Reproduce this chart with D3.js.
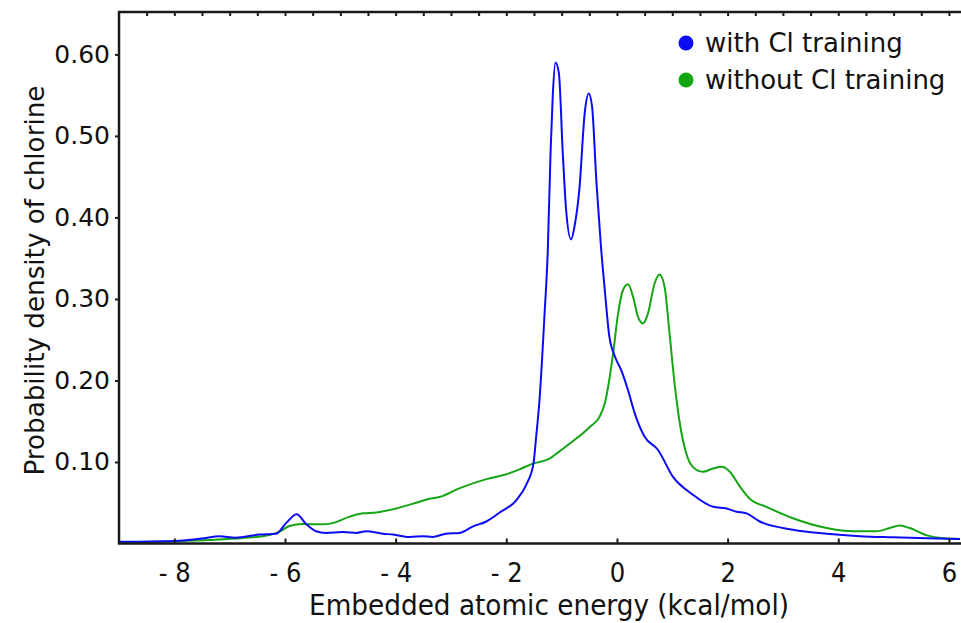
<!DOCTYPE html>
<html>
<head>
<meta charset="utf-8">
<script src="https://cdn.jsdelivr.net/npm/d3@7"></script>
<style>
  body { margin: 0; background: #fff; }
  svg { display: block; }
</style>
</head>
<body>
<div id="chart"></div>
<script>
// with Cl training (blue)
const withX = [-9.0, -8.0, -7.5, -7.18, -6.9, -6.46, -6.16, -5.98, -5.79, -5.62, -5.44, -5.26, -4.95, -4.71, -4.53, -4.23, -4.05, -3.75, -3.5, -3.33, -3.09, -2.84, -2.6, -2.36, -2.12, -1.82, -1.64, -1.51, -1.46, -1.4, -1.31, -1.25, -1.2, -1.16, -1.11, -1.05, -0.98, -0.92, -0.83, -0.77, -0.68, -0.58, -0.51, -0.45, -0.37, -0.29, -0.22, -0.14, -0.04, 0.08, 0.2, 0.32, 0.5, 0.74, 1.01, 1.37, 1.74, 1.98, 2.16, 2.34, 2.58, 3.18, 3.79, 4.39, 4.99, 5.6, 6.2];
const withY = [0.002, 0.003, 0.006, 0.009, 0.007, 0.011, 0.012, 0.025, 0.036, 0.024, 0.015, 0.013, 0.014, 0.013, 0.015, 0.012, 0.011, 0.008, 0.009, 0.008, 0.012, 0.013, 0.021, 0.027, 0.038, 0.053, 0.072, 0.098, 0.131, 0.176, 0.28, 0.36, 0.48, 0.55, 0.59, 0.577, 0.48, 0.41, 0.373, 0.388, 0.434, 0.53, 0.552, 0.536, 0.442, 0.365, 0.311, 0.255, 0.23, 0.212, 0.188, 0.16, 0.131, 0.115, 0.082, 0.06, 0.045, 0.043, 0.039, 0.037, 0.027, 0.017, 0.012, 0.009, 0.0076, 0.0064, 0.0055];

// without Cl training (green)
const withoutX = [-9.0, -8.0, -7.36, -6.76, -6.28, -6.1, -5.92, -5.68, -5.32, -5.14, -4.83, -4.59, -4.35, -3.99, -3.63, -3.39, -3.21, -2.84, -2.36, -2.0, -1.76, -1.52, -1.22, -1.04, -0.73, -0.49, -0.31, -0.22, -0.16, -0.07, 0.02, 0.11, 0.2, 0.29, 0.38, 0.47, 0.56, 0.68, 0.77, 0.86, 0.95, 1.04, 1.13, 1.25, 1.37, 1.55, 1.74, 1.89, 2.04, 2.22, 2.4, 2.7, 3.18, 3.79, 4.27, 4.69, 4.93, 5.11, 5.29, 5.6, 5.9, 6.2];
const withoutY = [0.001, 0.0027, 0.0043, 0.0067, 0.0104, 0.0145, 0.0215, 0.024, 0.0235, 0.025, 0.033, 0.037, 0.038, 0.043, 0.05, 0.055, 0.057, 0.068, 0.079, 0.085, 0.091, 0.098, 0.104, 0.113, 0.129, 0.143, 0.156, 0.172, 0.192, 0.233, 0.282, 0.311, 0.318, 0.303, 0.278, 0.27, 0.282, 0.319, 0.33, 0.315, 0.258, 0.197, 0.15, 0.111, 0.094, 0.088, 0.092, 0.094, 0.088, 0.07, 0.055, 0.045, 0.031, 0.019, 0.015, 0.015, 0.019, 0.022, 0.019, 0.01, 0.0064, 0.0055];

const xTicks = [-8, -6, -4, -2, 0, 2, 4, 6];
const xTopTicks = d3.range(-8.5, 6.01, 0.5);
const yTicks = [0.1, 0.2, 0.3, 0.4, 0.5, 0.6];
const seriesNames = ["with Cl training", "without Cl training"];
const seriesColors = ["#0b0bf5", "#14a514"];

const width = 961, height = 623;
const margin = {top: 12, right: 1, bottom: 79.5, left: 119};

const svg = d3.select("#chart").append("svg")
    .attr("width", width)
    .attr("height", height);

const x = d3.scaleLinear().domain([-9.0, 6.2]).range([margin.left, width - margin.right]);
const y = d3.scaleLinear().domain([0, 0.652]).range([height - margin.bottom, margin.top]);

const series = [
    withX.map((v, i) => ({x: v, y: withY[i]})),
    withoutX.map((v, i) => ({x: v, y: withoutY[i]}))
];

const line = d3.line()
    .x(d => x(d.x))
    .y(d => y(d.y))
    .curve(d3.curveMonotoneX);

// curves (green first so blue sits on top)
[1, 0].forEach(i => {
    svg.append("path")
        .datum(series[i])
        .attr("d", line)
        .attr("fill", "none")
        .attr("stroke", seriesColors[i])
        .attr("stroke-width", 2);
});

const axisColor = "#1a1a1a";
const fmtX = d => d < 0 ? "- " + Math.abs(d) : String(d);

// bottom axis
const gx = svg.append("g")
    .attr("transform", `translate(0,${y(0)})`)
    .call(d3.axisBottom(x).tickValues(xTicks).tickFormat(fmtX).tickSizeInner(-5).tickSizeOuter(0).tickPadding(19));
gx.select(".domain").remove();
gx.selectAll(".tick line").attr("stroke", axisColor).attr("stroke-width", 2);
gx.selectAll(".tick text")
    .attr("font-family", "DejaVu Sans Condensed, DejaVu Sans")
    .attr("font-stretch", "condensed")
    .attr("font-size", 27)
    .attr("fill", "#111");

// top ticks
const gt = svg.append("g")
    .attr("transform", `translate(0,${margin.top})`)
    .call(d3.axisTop(x).tickValues(xTopTicks).tickFormat("").tickSizeInner(-4).tickSizeOuter(0));
gt.select(".domain").remove();
gt.selectAll(".tick line").attr("stroke", axisColor).attr("stroke-width", 2);

// left axis
const gy = svg.append("g")
    .attr("transform", `translate(${margin.left},0)`)
    .call(d3.axisLeft(y).tickValues(yTicks).tickFormat(d3.format(".2f")).tickSizeInner(4).tickSizeOuter(0).tickPadding(5));
gy.select(".domain").remove();
gy.selectAll(".tick line").attr("stroke", axisColor).attr("stroke-width", 2);
gy.selectAll(".tick text")
    .attr("font-family", "DejaVu Sans")
    .attr("font-size", 25)
    .attr("fill", "#111");

// frame: left, top, bottom
svg.append("path")
    .attr("d", `M${width},${margin.top}H${margin.left}V${y(0)}H${width}`)
    .attr("fill", "none")
    .attr("stroke", axisColor)
    .attr("stroke-width", 2.5);

// axis titles
svg.append("text")
    .attr("x", 549)
    .attr("y", 615)
    .attr("text-anchor", "middle")
    .attr("font-family", "DejaVu Sans Condensed, DejaVu Sans")
    .attr("font-stretch", "condensed")
    .attr("font-size", 28)
    .attr("textLength", 480)
    .attr("lengthAdjust", "spacingAndGlyphs")
    .attr("fill", "#111")
    .text("Embedded atomic energy (kcal/mol)");

svg.append("text")
    .attr("transform", `translate(44,${y(0.325) + 2}) rotate(-90)`)
    .attr("text-anchor", "middle")
    .attr("font-family", "DejaVu Sans")
    .attr("font-size", 26)
    .attr("textLength", 390)
    .attr("lengthAdjust", "spacingAndGlyphs")
    .attr("fill", "#111")
    .text("Probability density of chlorine");

// legend
const legend = svg.append("g");
seriesNames.forEach((name, i) => {
    const ly = 43 + i * 37;
    legend.append("circle")
        .attr("cx", 686)
        .attr("cy", ly)
        .attr("r", 7.5)
        .attr("fill", seriesColors[i]);
    legend.append("text")
        .attr("x", 705)
        .attr("y", ly + 9)
        .attr("font-family", "DejaVu Sans")
        .attr("font-size", 26)
        .attr("fill", "#111")
        .text(name);
});
</script>
</body>
</html>
